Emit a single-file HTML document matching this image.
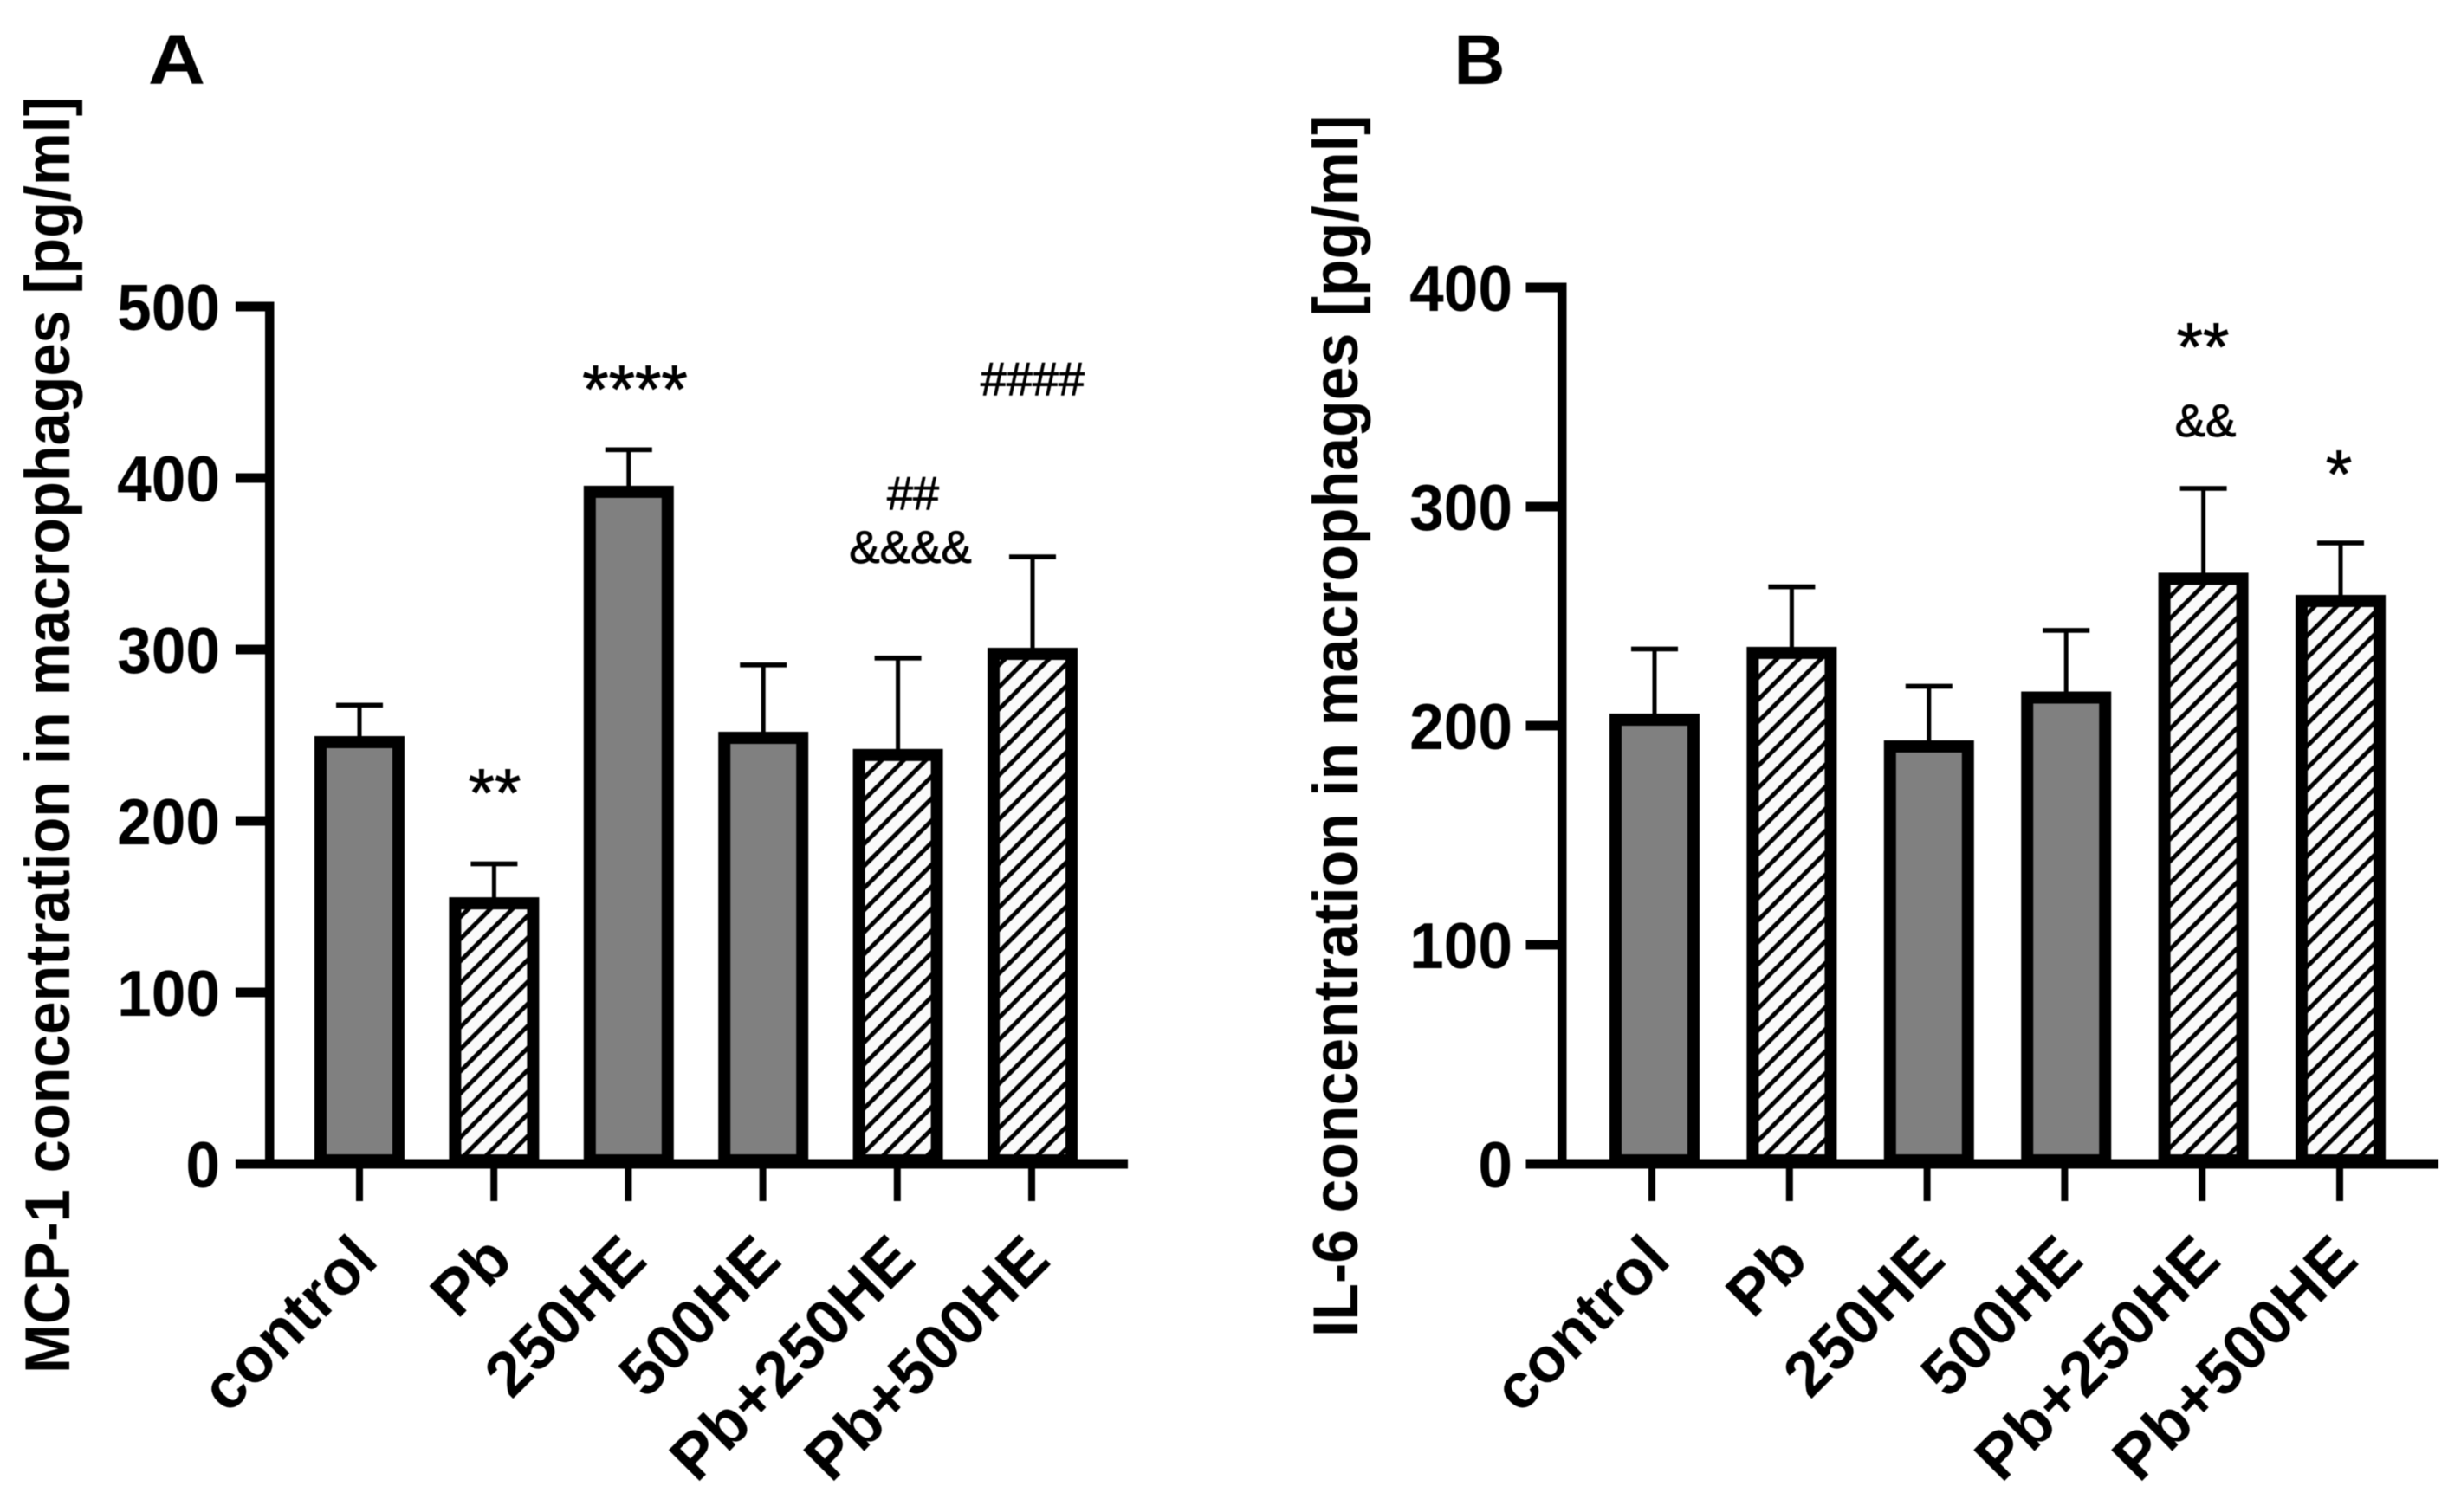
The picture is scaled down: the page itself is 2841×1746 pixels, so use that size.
<!DOCTYPE html>
<html lang="en">
<head>
<meta charset="utf-8">
<title>MCP-1 and IL-6 concentration in macrophages</title>
<style>
html,body{margin:0;padding:0;background:#fff;width:2841px;height:1746px;overflow:hidden}
svg{display:block;filter:blur(0.6px)}
text{font-family:"Liberation Sans",Arial,sans-serif;fill:#000}
.b{font-weight:700}
.n{stroke:#000;stroke-width:0.9px}
</style>
</head>
<body>
<svg id="figure" xmlns="http://www.w3.org/2000/svg" width="2841" height="1746" viewBox="0 0 2841 1746">
<defs>
<pattern id="hatch" patternUnits="userSpaceOnUse" width="18" height="18" patternTransform="rotate(-45)">
<rect width="18" height="18" fill="#fafafa"/>
<rect y="6" width="18" height="5" fill="#000"/>
</pattern>
</defs>
<rect width="2841" height="1746" fill="#fff"/>
<text class="b" transform="translate(204,97) scale(1.12,1)" font-size="82" text-anchor="middle">A</text>
<text class="b" x="1708" y="97" font-size="82" text-anchor="middle">B</text>
<text class="b" transform="translate(80,1586) rotate(-90) scale(1,1.07)" font-size="68.4">MCP-1 concentration in macrophages [pg/ml]</text>
<text class="b" transform="translate(1567,1544) rotate(-90) scale(1,1.05)" font-size="69.8">IL-6 concentration in macrophages [pg/ml]</text>
<g id="panel-a"></g>
<g id="panel-b"></g>
<g>
<text class="n" x="571" y="942" font-size="78" text-anchor="middle">**</text>
<text class="n" x="733" y="476" font-size="78" text-anchor="middle">****</text>
<text class="n" x="1054" y="588" font-size="54" text-anchor="middle">##</text>
<text class="n" x="1051" y="650" font-size="53" text-anchor="middle">&amp;&amp;&amp;&amp;</text>
<text class="n" x="1192" y="456" font-size="54" text-anchor="middle">####</text>
<text class="n" x="2543" y="427" font-size="78" text-anchor="middle">**</text>
<text class="n" x="2546" y="504" font-size="53" text-anchor="middle">&amp;&amp;</text>
<text class="n" x="2700" y="574" font-size="78" text-anchor="middle">*</text>
</g>
</svg>
<script>
const categories = ["control", "Pb", "250HE", "500HE", "Pb+250HE", "Pb+500HE"];
const mcp1Values = [249.5, 155.5, 395.5, 252, 242, 301];
const mcp1ErrorTops = [267.5, 175, 416.5, 291, 295, 354];
const mcp1Hatched = [false, true, false, false, true, true];
const mcp1TickLabels = [0, 100, 200, 300, 400, 500];
const il6Values = [205.5, 236, 193.3, 215.6, 269.8, 259.7];
const il6ErrorTops = [235, 263.4, 218, 243.5, 308.3, 283.4];
const il6Hatched = [false, true, false, false, true, true];
const il6TickLabels = [0, 100, 200, 300, 400];

const NS = "http://www.w3.org/2000/svg";
function make(parent, tag, props, name) {
  const el = document.createElementNS(NS, tag);
  for (const k in props) el.setAttribute(k, props[k]);
  
  
  parent.appendChild(el);
  return el;
}

function drawPanel(cfg) {
  const root = document.getElementById(cfg.id);
  const prefix = cfg.prefix;
  const y = v => cfg.y0 - v * cfg.pxPerUnit;
  const barX = i => cfg.bar0 + i * cfg.barStep;
  const tickX = i => cfg.tick0 + i * cfg.tickStep;
  const barW = 104, sw = 14, capW = 54, capH = 5.6, stemW = 5;

  cfg.values.forEach((v, i) => {
    const cx = barX(i), top = y(v), bottom = cfg.y0 - 4;
    const cat = categories[i].toLowerCase().replace('+', '-');
    make(root, 'rect', {x: cx - stemW / 2, y: y(cfg.errorTops[i]), width: stemW, height: top - y(cfg.errorTops[i]) + 2, fill: '#000'}, prefix + '-error-stem-' + cat);
    make(root, 'rect', {x: cx - capW / 2, y: y(cfg.errorTops[i]) - capH / 2, width: capW, height: capH, fill: '#000'}, prefix + '-error-cap-' + cat);
    make(root, 'rect', {
      x: cx - barW / 2 + sw / 2, y: top + sw / 2,
      width: barW - sw, height: bottom - top - sw / 2,
      fill: cfg.hatched[i] ? 'url(#hatch)' : '#808080',
      stroke: '#000', 'stroke-width': sw
    }, prefix + '-bar-' + cat);
  });

  // y axis
  make(root, 'rect', {x: cfg.axisX - 5, y: y(cfg.tickLabels[cfg.tickLabels.length - 1]) - 5.5, width: 10.5, height: cfg.y0 - y(cfg.tickLabels[cfg.tickLabels.length - 1]) + 11, fill: '#000'}, prefix + '-y-axis-line');
  cfg.tickLabels.forEach(t => {
    make(root, 'rect', {x: cfg.tickLeft, y: y(t) - 5.5, width: cfg.axisX - cfg.tickLeft, height: 11, fill: '#000'}, prefix + '-y-tick-' + t);
    const lab = make(root, 'text', {transform: 'translate(' + cfg.labelRight + ',' + (y(t) + 27) + ') scale(0.95,1)', 'font-size': 75, 'font-weight': 700, 'text-anchor': 'end'}, prefix + '-y-tick-label-' + t);
    lab.textContent = String(t);
  });

  // x axis
  make(root, 'rect', {x: cfg.tickLeft, y: cfg.y0 - 5.5, width: cfg.axisRight - cfg.tickLeft, height: 11, fill: '#000'}, prefix + '-x-axis-line');
  categories.forEach((c, i) => {
    const cat = c.toLowerCase().replace('+', '-');
    make(root, 'rect', {x: tickX(i) - 4, y: cfg.y0 + 5, width: 8, height: 38, fill: '#000'}, prefix + '-x-tick-' + cat);
    const px = tickX(i) + 24, py = 1458;
    const lab = make(root, 'text', {transform: 'translate(' + px + ',' + py + ') rotate(-45)', 'font-size': 73.5, 'font-weight': 700, 'text-anchor': 'end'}, prefix + '-x-tick-label-' + cat);
    lab.textContent = c;
  });
}

drawPanel({
  id: 'panel-a', prefix: 'panel-a',
  values: mcp1Values, errorTops: mcp1ErrorTops, hatched: mcp1Hatched, tickLabels: mcp1TickLabels,
  y0: 1344, pxPerUnit: 1.98,
  bar0: 415, barStep: 155.4, tick0: 415, tickStep: 155.2,
  axisX: 311, tickLeft: 272, labelRight: 254, axisRight: 1302
});
drawPanel({
  id: 'panel-b', prefix: 'panel-b',
  values: il6Values, errorTops: il6ErrorTops, hatched: il6Hatched, tickLabels: il6TickLabels,
  y0: 1344, pxPerUnit: 2.53,
  bar0: 1910, barStep: 158.4, tick0: 1907, tickStep: 158.8,
  axisX: 1803, tickLeft: 1761.5, labelRight: 1746, axisRight: 2815
});
</script>
</body>
</html>
